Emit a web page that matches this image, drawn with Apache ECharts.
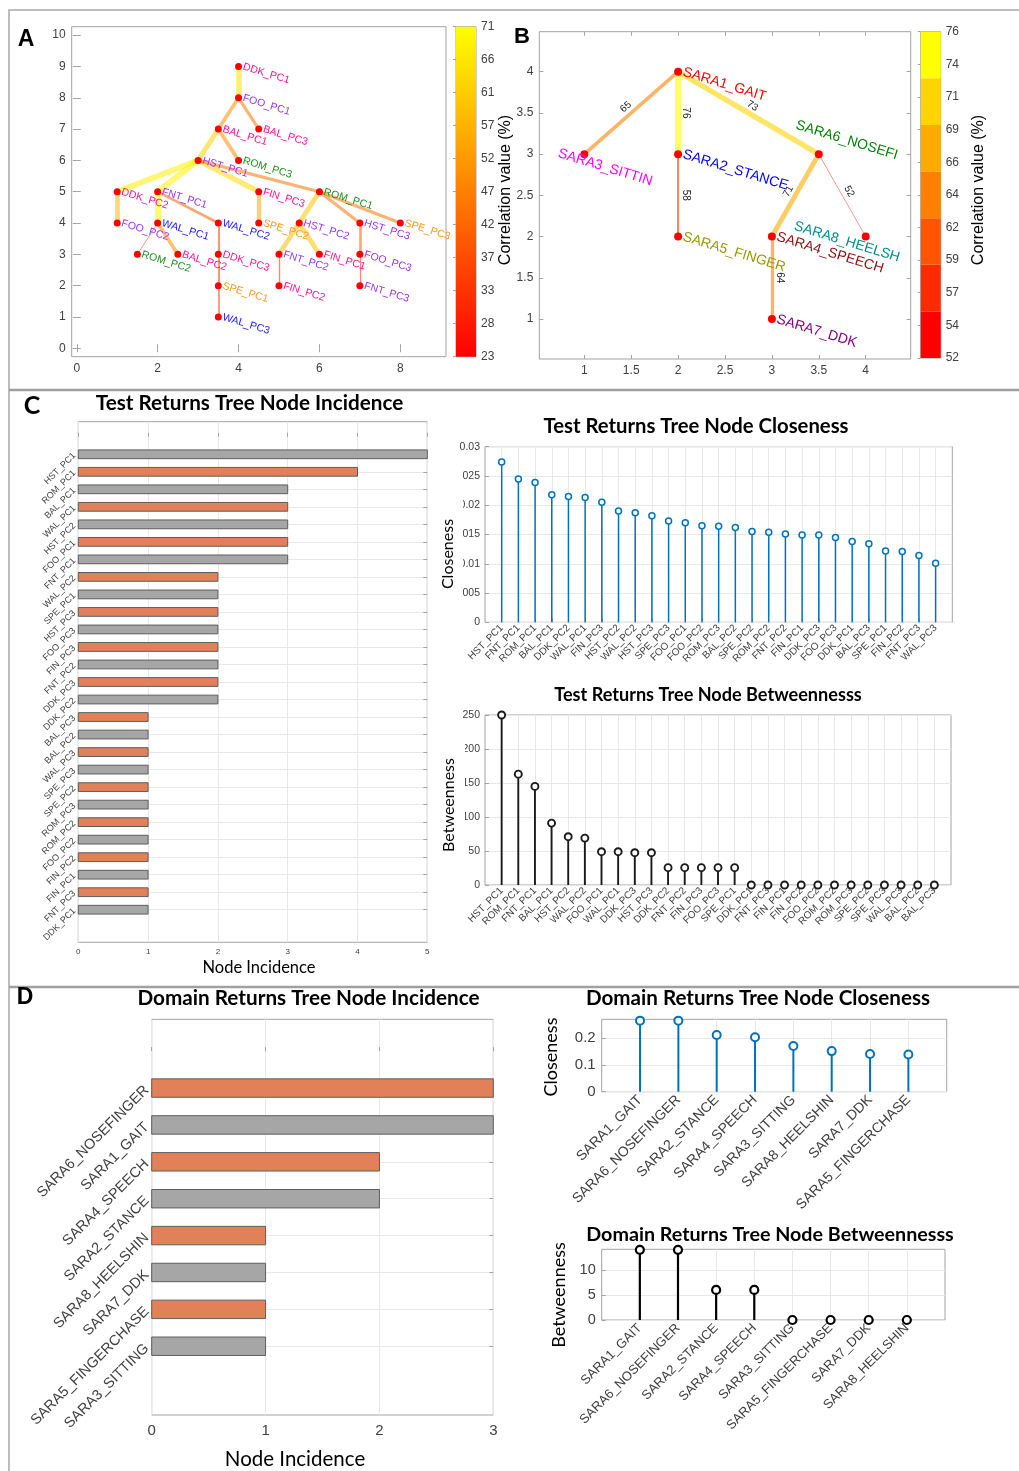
<!DOCTYPE html>
<html><head><meta charset="utf-8">
<script src="https://cdn.jsdelivr.net/npm/echarts@6/dist/echarts.min.js"></script>
<style>html,body{margin:0;padding:0;background:#fff}#c{width:1019px;height:1471px}</style>
</head><body><div id="c"></div>
<script>
// ---------------- DATA ----------------
// Panel A: test returns tree
const treeANodes = ['DDK_PC1','FOO_PC1','BAL_PC1','BAL_PC3','HST_PC1','ROM_PC3','DDK_PC2','FNT_PC1','FIN_PC3','ROM_PC1',
  'FOO_PC2','WAL_PC1','WAL_PC2','SPE_PC2','HST_PC2','HST_PC3','SPE_PC3','ROM_PC2','BAL_PC2','DDK_PC3',
  'FNT_PC2','FIN_PC1','FOO_PC3','SPE_PC1','FIN_PC2','FNT_PC3','WAL_PC3'];
const treeAX = [4,4,3.5,4.5,3,4,1,2,4.5,6, 1,2,3.5,4.5,5.5,7,8,1.5,2.5,3.5, 5,6,7,3.5,5,7,3.5];
const treeAY = [9,8,7,7,6,6,5,5,5,5, 4,4,4,4,4,4,4,3,3,3, 3,3,3,2,2,2,1];
const treeAEdgeFrom = ['DDK_PC1','FOO_PC1','FOO_PC1','BAL_PC1','BAL_PC1','HST_PC1','HST_PC1','HST_PC1','HST_PC1','DDK_PC2',
  'FNT_PC1','FNT_PC1','WAL_PC1','WAL_PC1','WAL_PC2','DDK_PC3','SPE_PC1','FIN_PC3','ROM_PC1','ROM_PC1',
  'ROM_PC1','HST_PC2','HST_PC2','FNT_PC2','HST_PC3','FOO_PC3'];
const treeAEdgeTo = ['FOO_PC1','BAL_PC1','BAL_PC3','HST_PC1','ROM_PC3','DDK_PC2','FNT_PC1','FIN_PC3','ROM_PC1','FOO_PC2',
  'WAL_PC1','WAL_PC2','ROM_PC2','BAL_PC2','DDK_PC3','SPE_PC1','WAL_PC3','SPE_PC2','HST_PC2','HST_PC3',
  'SPE_PC3','FNT_PC2','FIN_PC1','FIN_PC2','FOO_PC3','FNT_PC3'];
const treeAEdgeCorr = [66,50,45,62,50,68,69,64,45,58, 71,40,25,50,35,35,33,55,60,45, 45,58,60,30,40,28];
const treeAXTicks = [0,2,4,6,8];
const treeAYTicks = [0,1,2,3,4,5,6,7,8,9,10];
const colorbarAMin = 23, colorbarAMax = 71;

// Panel B: domain returns tree
const treeBNodes = ['SARA1_GAIT','SARA2_STANCE','SARA3_SITTIN','SARA4_SPEECH','SARA5_FINGER','SARA6_NOSEFI','SARA7_DDK','SARA8_HEELSH'];
const treeBX = [2,2,1,3,2,3.5,3,4];
const treeBY = [4,3,3,2,2,3,1,2];
const treeBEdgeFrom = ['SARA1_GAIT','SARA1_GAIT','SARA1_GAIT','SARA2_STANCE','SARA6_NOSEFI','SARA6_NOSEFI','SARA4_SPEECH'];
const treeBEdgeTo   = ['SARA3_SITTIN','SARA2_STANCE','SARA6_NOSEFI','SARA5_FINGER','SARA4_SPEECH','SARA8_HEELSH','SARA7_DDK'];
const treeBEdgeCorr = [65,76,73,58,71,52,64];
const treeBXTicks = [1,1.5,2,2.5,3,3.5,4];
const treeBYTicks = [1,1.5,2,2.5,3,3.5,4];
const colorbarBMin = 52, colorbarBMax = 76, colorbarBLevels = 7;

// Panel C
const testIncNames = ['HST_PC1','ROM_PC1','BAL_PC1','WAL_PC1','HST_PC2','FOO_PC1','FNT_PC1','WAL_PC2','SPE_PC1','HST_PC3',
  'FOO_PC3','FIN_PC3','FNT_PC2','DDK_PC3','DDK_PC2','BAL_PC3','BAL_PC2','WAL_PC3','SPE_PC3','SPE_PC2',
  'ROM_PC3','ROM_PC2','FOO_PC2','FIN_PC2','FIN_PC1','FNT_PC3','DDK_PC1'];
const testIncValues = [5,4,3,3,3,3,3,2,2,2, 2,2,2,2,2,1,1,1,1,1, 1,1,1,1,1,1,1];
const testCloNames = ['HST_PC1','FNT_PC1','ROM_PC1','BAL_PC1','DDK_PC2','WAL_PC1','FIN_PC3','HST_PC2','WAL_PC2','HST_PC3',
  'SPE_PC3','FOO_PC1','FOO_PC2','ROM_PC3','BAL_PC2','SPE_PC2','ROM_PC2','FNT_PC2','FIN_PC1','DDK_PC3',
  'FOO_PC3','DDK_PC1','BAL_PC3','SPE_PC1','FIN_PC2','FNT_PC3','WAL_PC3'];
const testCloValues = [0.0274,0.0245,0.0239,0.0218,0.0215,0.0213,0.0205,0.0190,0.0187,0.0182,
  0.0173,0.0170,0.0165,0.0164,0.0162,0.0155,0.0154,0.0151,0.0149,0.0149,
  0.0145,0.0138,0.0134,0.0122,0.0121,0.0114,0.0101];
const testBetNames = ['HST_PC1','ROM_PC1','FNT_PC1','BAL_PC1','HST_PC2','WAL_PC2','FOO_PC1','WAL_PC1','DDK_PC3','HST_PC3',
  'DDK_PC2','FNT_PC2','FIN_PC3','FOO_PC3','SPE_PC1','DDK_PC1','FNT_PC3','FIN_PC1','FIN_PC2','FOO_PC2',
  'ROM_PC2','ROM_PC3','SPE_PC2','SPE_PC3','WAL_PC3','BAL_PC2','BAL_PC3'];
const testBetValues = [250,163,145,91,71,69,49,49,47.5,47.5, 25.5,25.5,25.5,25.5,25.5,0,0,0,0,0, 0,0,0,0,0,0,0];

// Panel D
const domIncNames = ['SARA6_NOSEFINGER','SARA1_GAIT','SARA4_SPEECH','SARA2_STANCE','SARA8_HEELSHIN','SARA7_DDK','SARA5_FINGERCHASE','SARA3_SITTING'];
const domIncValues = [3,3,2,2,1,1,1,1];
const domCloNames = ['SARA1_GAIT','SARA6_NOSEFINGER','SARA2_STANCE','SARA4_SPEECH','SARA3_SITTING','SARA8_HEELSHIN','SARA7_DDK','SARA5_FINGERCHASE'];
const domCloValues = [0.266,0.266,0.212,0.204,0.171,0.152,0.141,0.139];
const domBetNames = ['SARA1_GAIT','SARA6_NOSEFINGER','SARA2_STANCE','SARA4_SPEECH','SARA3_SITTING','SARA5_FINGERCHASE','SARA7_DDK','SARA8_HEELSHIN'];
const domBetValues = [14,14,6,6,0,0,0,0];

// ---------------- STYLE ----------------
const FONT = 'Liberation Sans';
const AXC = '#a3a3a3';
const LABC = '#404040';
const GRIDC = '#e8e8e8';
const domainColors = {DDK:'#ff1493', BAL:'#ff1493', FIN:'#ff1493', FOO:'#9933ff', HST:'#9933ff', FNT:'#9933ff',
  ROM:'#1f8f1f', WAL:'#1a1aff', SPE:'#ff9922'};
const saraColors = {SARA1_GAIT:'#ff0000', SARA2_STANCE:'#0000ff', SARA3_SITTIN:'#ff00ff', SARA4_SPEECH:'#8b1010',
  SARA5_FINGER:'#999900', SARA6_NOSEFI:'#008000', SARA7_DDK:'#800080', SARA8_HEELSH:'#008b8b'};
const saraLabelOffsets = {SARA3_SITTIN:[-30,8], SARA6_NOSEFI:[-35,-20], SARA8_HEELSH:[-76,12]};
const autumn7 = ['#ff0000','#ff2b00','#ff5500','#ff8000','#ffaa00','#ffd400','#ffff00'];
const barColorsC = ['#a6a6a6','#e2805a'];
const barColorsD = ['#e2805a','#a6a6a6'];

function corrColorA(c){ const t = Math.max(0, Math.min(1, (c - colorbarAMin)/(colorbarAMax - colorbarAMin))); return 'rgb(255,' + Math.round(255*t) + ',0)'; }
function corrColorB(c){ let k = Math.floor((c - colorbarBMin)/(colorbarBMax - colorbarBMin)*(colorbarBLevels-1)); k = Math.max(0, Math.min(colorbarBLevels-1, k)); return autumn7[k]; }

function merge(base, o){ for (const k in o){ if (o[k] && typeof o[k]==='object' && !Array.isArray(o[k]) && base[k] && typeof base[k]==='object') base[k] = Object.assign({}, base[k], o[k]); else base[k] = o[k]; } return base; }
function axis(o){
  return merge({type:'value', axisLine:{show:false}, splitLine:{show:false, lineStyle:{color:GRIDC, width:1}},
    axisTick:{show:true, inside:true, length:4, lineStyle:{color:AXC, width:1}},
    axisLabel:{color:LABC, fontFamily:FONT, fontSize:12, margin:6}}, o || {});
}
const grids=[], xAxes=[], yAxes=[], series=[], graphics=[];
function addGrid(g, xa, ya){
  grids.push(Object.assign({show:true, borderColor:AXC, borderWidth:1, backgroundColor:'transparent'}, g));
  const gi = grids.length - 1;
  xAxes.push(Object.assign({gridIndex:gi}, xa)); yAxes.push(Object.assign({gridIndex:gi}, ya));
  return gi;
}
const range = (a,b) => { const r=[]; for (let i=a;i<=b;i++) r.push(i); return r; };
const fmtNum = v => String(+(+v).toFixed(4));
const mirrors = [];

// ---------------- PANEL A ----------------
const gA = addGrid({left:71.7, top:26.7, width:374.3, height:330},
  axis({min:-0.125, max:9.13, axisLabel:{customValues:treeAXTicks, formatter:fmtNum}, axisTick:{customValues:treeAXTicks}}),
  axis({min:-0.27, max:10.27, axisLabel:{customValues:treeAYTicks, formatter:fmtNum}, axisTick:{customValues:treeAYTicks}}));
mirrors.push([gA, 'x', -0.125, 9.13, treeAXTicks], [gA, 'y', -0.27, 10.27, treeAYTicks]);
series.push({type:'graph', coordinateSystem:'cartesian2d', xAxisIndex:gA, yAxisIndex:gA, layout:'none', silent:true,
  symbol:'circle', symbolSize:7, itemStyle:{color:'#ff0000'},
  label:{show:true, position:'right', distance:1, rotate:-17, fontSize:10.5, fontFamily:FONT, formatter:'{b}'},
  data: treeANodes.map((n,i)=>({name:n, value:[treeAX[i], treeAY[i]], label:{color:domainColors[n.slice(0,3)]}})),
  links: treeAEdgeFrom.map((f,i)=>{ const c = treeAEdgeCorr[i];
    return {source:f, target:treeAEdgeTo[i], value:c,
      lineStyle:{color:corrColorA(c), width:0.6 + (c-colorbarAMin)/(colorbarAMax-colorbarAMin)*5.6, opacity:0.55, curveness:0}}; })
});
// colorbar A
const cbATicks = range(0,10).map(k => colorbarAMin + k*(colorbarAMax-colorbarAMin)/10);
const gCA = addGrid({left:456, top:26.7, width:20, height:330},
  {type:'value', min:0, max:1, show:false},
  axis({min:colorbarAMin, max:colorbarAMax, position:'right', axisLabel:{customValues:cbATicks, formatter:v=>String(Math.round(v)), margin:5},
    axisTick:{customValues:cbATicks, inside:true, length:3}}));
series.push({type:'custom', xAxisIndex:gCA, yAxisIndex:gCA, silent:true, data:[[0, colorbarAMin, colorbarAMax]],
  renderItem:(p, api)=>{ const a = api.coord([0, api.value(2)]), b = api.coord([1, api.value(1)]);
    return {type:'rect', shape:{x:a[0], y:a[1], width:b[0]-a[0], height:b[1]-a[1]},
      style:{fill:new echarts.graphic.LinearGradient(0,0,0,1,[{offset:0,color:'#ffff00'},{offset:1,color:'#ff0000'}])}}; }});

// ---------------- PANEL B ----------------
const gB = addGrid({left:539.3, top:31.7, width:371.4, height:327.3},
  axis({min:0.52, max:4.48, axisLabel:{customValues:treeBXTicks, formatter:fmtNum}, axisTick:{customValues:treeBXTicks}}),
  axis({min:0.515, max:4.485, axisLabel:{customValues:treeBYTicks, formatter:fmtNum}, axisTick:{customValues:treeBYTicks}}));
mirrors.push([gB, 'x', 0.52, 4.48, treeBXTicks], [gB, 'y', 0.515, 4.485, treeBYTicks]);
series.push({type:'graph', coordinateSystem:'cartesian2d', xAxisIndex:gB, yAxisIndex:gB, layout:'none', silent:true,
  symbol:'circle', symbolSize:8, itemStyle:{color:'#ff0000'},
  label:{show:true, position:'right', distance:1, rotate:-17, fontSize:14, fontFamily:FONT, formatter:'{b}'},
  edgeLabel:{show:true, formatter:'{c}', fontSize:10, fontFamily:FONT, color:'#222', opacity:1, distance:3},
  data: treeBNodes.map((n,i)=>({name:n, value:[treeBX[i], treeBY[i]],
    label:Object.assign({color:saraColors[n]}, saraLabelOffsets[n] ? {offset:saraLabelOffsets[n]} : {})})),
  links: treeBEdgeFrom.map((f,i)=>{ const c = treeBEdgeCorr[i];
    return {source:f, target:treeBEdgeTo[i], value:c,
      lineStyle:{color:corrColorB(c), width:0.7 + (c-colorbarBMin)/(colorbarBMax-colorbarBMin)*5.3, opacity:0.6, curveness:0},
      label:{opacity:1}}; })
});
// colorbar B
const cbBTicks = range(0,10).map(k => colorbarBMin + k*(colorbarBMax-colorbarBMin)/10);
const cbBBands = range(0, colorbarBLevels-1).map(k => [0, colorbarBMin + k*(colorbarBMax-colorbarBMin)/colorbarBLevels,
  colorbarBMin + (k+1)*(colorbarBMax-colorbarBMin)/colorbarBLevels, k]);
const gCB = addGrid({left:920.7, top:31.7, width:20, height:326.3},
  {type:'value', min:0, max:1, show:false},
  axis({min:colorbarBMin, max:colorbarBMax, position:'right', axisLabel:{customValues:cbBTicks, formatter:v=>String(Math.round(v)), margin:5},
    axisTick:{customValues:cbBTicks, inside:true, length:3}}));
series.push({type:'custom', xAxisIndex:gCB, yAxisIndex:gCB, silent:true, data:cbBBands,
  renderItem:(p, api)=>{ const a = api.coord([0, api.value(2)]), b = api.coord([1, api.value(1)]);
    return {type:'rect', shape:{x:a[0], y:a[1], width:b[0]-a[0], height:b[1]-a[1]}, style:{fill:autumn7[api.value(3)]}}; }});

// ---------------- helpers for bars & stems ----------------
function hbarSeries(gi, values, colors){
  return {type:'custom', xAxisIndex:gi, yAxisIndex:gi, silent:true, data: values.map((v,i)=>[v, i+1]),
    renderItem:(p, api)=>{ const y = api.value(1); const a = api.coord([0, y]), b = api.coord([api.value(0), y]);
      const h = Math.abs(api.size([0,1])[1]) * 0.5;
      return {type:'rect', shape:{x:a[0], y:a[1]-h/2, width:b[0]-a[0], height:h},
        style:{fill:colors[p.dataIndex % 2], stroke:'#5e5e5e', lineWidth:1}}; }};
}
function stemSeries(gi, values, color, r, lw){
  return {type:'custom', xAxisIndex:gi, yAxisIndex:gi, silent:true, data: values.map((v,i)=>[i+1, v]),
    renderItem:(p, api)=>{ const x = api.value(0), v = api.value(1); const a = api.coord([x, 0]), b = api.coord([x, v]);
      return {type:'group', children:[
        {type:'line', shape:{x1:a[0], y1:a[1], x2:b[0], y2:b[1]}, style:{stroke:color, lineWidth:lw}},
        {type:'circle', shape:{cx:b[0], cy:b[1], r:r}, style:{fill:'#fff', stroke:color, lineWidth:lw}}]}; }};
}
function catTicks(n){ return range(1, n); }

// ---------------- PANEL C ----------------
const gCI = addGrid({left:78.3, top:421.7, width:349, height:520.6},
  axis({min:0, max:5, interval:1, splitLine:{show:true}, axisLabel:{fontSize:8, margin:5}}),
  axis({min:-0.86, max:testIncNames.length + 1.86, inverse:true, splitLine:{show:true},
    axisLabel:{customValues:catTicks(testIncNames.length), formatter:v=>testIncNames[Math.round(v)-1] || '', rotate:45, fontSize:9, margin:4},
    axisTick:{customValues:catTicks(testIncNames.length)}}));
mirrors.push([gCI, 'y', -0.86, testIncNames.length + 1.86, catTicks(testIncNames.length), true]);
series.push(hbarSeries(gCI, testIncValues, barColorsC));

const gCC = addGrid({left:485, top:446.7, width:467.3, height:175.6},
  axis({min:0, max:testCloNames.length + 1, splitLine:{show:true},
    axisLabel:{customValues:catTicks(testCloNames.length), formatter:v=>testCloNames[Math.round(v)-1] || '', rotate:45, fontSize:10, margin:4},
    axisTick:{customValues:catTicks(testCloNames.length)}}),
  axis({min:0, max:0.03, interval:0.005, splitLine:{show:true}, axisLabel:{fontSize:10.5, formatter:fmtNum, margin:5}}));
series.push(stemSeries(gCC, testCloValues, '#0072bd', 3, 1.5));

const gCB2 = addGrid({left:485, top:715, width:466, height:170},
  axis({min:0, max:testBetNames.length + 1, splitLine:{show:true},
    axisLabel:{customValues:catTicks(testBetNames.length), formatter:v=>testBetNames[Math.round(v)-1] || '', rotate:45, fontSize:10, margin:4},
    axisTick:{customValues:catTicks(testBetNames.length)}}),
  axis({min:0, max:250, interval:50, splitLine:{show:true}, axisLabel:{fontSize:10.5, margin:5}}));
series.push(stemSeries(gCB2, testBetValues, '#1a1a1a', 3.5, 1.9));

// ---------------- PANEL D ----------------
const gDI = addGrid({left:151.7, top:1019.3, width:341.6, height:395.7},
  axis({min:0, max:3, interval:1, splitLine:{show:true}, axisLabel:{fontSize:15, margin:8}}),
  axis({min:-0.864, max:domIncNames.length + 1.864, inverse:true, splitLine:{show:true},
    axisLabel:{customValues:catTicks(domIncNames.length), formatter:v=>domIncNames[Math.round(v)-1] || '', rotate:45, fontSize:14.5, margin:5},
    axisTick:{customValues:catTicks(domIncNames.length)}}));
mirrors.push([gDI, 'y', -0.864, domIncNames.length + 1.864, catTicks(domIncNames.length), true]);
series.push(hbarSeries(gDI, domIncValues, barColorsD));

const dCloY = [0, 0.1, 0.2];
const gDC = addGrid({left:601.7, top:1019.3, width:345, height:72.4},
  axis({min:0, max:domCloNames.length + 1, splitLine:{show:true},
    axisLabel:{customValues:catTicks(domCloNames.length), formatter:v=>domCloNames[Math.round(v)-1] || '', rotate:45, fontSize:14, margin:6},
    axisTick:{customValues:catTicks(domCloNames.length)}}),
  axis({min:0, max:0.271, splitLine:{show:true}, axisLabel:{customValues:dCloY, formatter:fmtNum, fontSize:15, margin:6}, axisTick:{customValues:dCloY}}));
series.push(stemSeries(gDC, domCloValues, '#0072bd', 4, 2));

const dBetY = [0, 5, 10];
const gDB = addGrid({left:601.7, top:1249.3, width:343.3, height:70.7},
  axis({min:0, max:domBetNames.length + 1, splitLine:{show:true},
    axisLabel:{customValues:catTicks(domBetNames.length), formatter:v=>domBetNames[Math.round(v)-1] || '', rotate:45, fontSize:13, margin:6},
    axisTick:{customValues:catTicks(domBetNames.length)}}),
  axis({min:0, max:14.1, splitLine:{show:true}, axisLabel:{customValues:dBetY, fontSize:14.5, margin:6}, axisTick:{customValues:dBetY}}));
series.push(stemSeries(gDB, domBetValues, '#000', 4, 2.2));

// mirrored tick marks on top/right edges (box style)
mirrors.forEach(([gi, dim, mn, mx, ticks, inv]) => {
  const ax = axis({min:mn, max:mx, inverse:!!inv, position: dim==='x' ? 'top' : 'right',
    axisLabel:{show:false}, axisTick:{customValues:ticks}});
  ax.gridIndex = gi;
  (dim==='x' ? xAxes : yAxes).push(ax);
});

// ---------------- TEXT & FRAME ----------------
function txt(t, x, y, font, opts){ graphics.push(Object.assign({type:'text', x:x, y:y, silent:true, z:100,
  style:{text:t, font:font, fill:'#000', align:'center', verticalAlign:'middle'}}, opts || {})); }
function vtxt(t, x, y, font){ txt(t, x, y, font, {rotation:Math.PI/2}); }
graphics.push({type:'rect', shape:{x:9, y:10, width:1020, height:1470}, style:{fill:'none', stroke:'#a8a8a8', lineWidth:1.5}, silent:true});
graphics.push({type:'line', shape:{x1:9, y1:390, x2:1019, y2:390}, style:{stroke:'#a0a0a0', lineWidth:2.5}, silent:true});
graphics.push({type:'line', shape:{x1:9, y1:987, x2:1019, y2:987}, style:{stroke:'#a0a0a0', lineWidth:2.5}, silent:true});
// clipped tick-label strips (as in the reference)
graphics.push({type:'rect', z:50, shape:{x:454, y:457, width:9, height:158}, style:{fill:'#fff'}, silent:true});
graphics.push({type:'rect', z:50, shape:{x:454, y:726, width:11, height:152}, style:{fill:'#fff'}, silent:true});
txt('A', 26, 40, 'bold 23px "Liberation Sans"');
txt('B', 522, 37, 'bold 22px "Liberation Sans"');
txt('C', 32, 406, 'bold 25px "Lato"');
txt('D', 25, 998, 'bold 23px "Liberation Sans"');
vtxt('Correlation value (%)', 506, 190, '16px "Liberation Sans"');
vtxt('Correlation value (%)', 979, 190, '16px "Liberation Sans"');
txt('Test Returns Tree Node Incidence', 249.5, 403, 'bold 20.7px "Lato"');
txt('Test Returns Tree Node Closeness', 696, 426, 'bold 20.3px "Lato"');
txt('Test Returns Tree Node Betweennesss', 708, 695, 'bold 18.1px "Lato"');
txt('Node Incidence', 259, 968, '16.5px "Lato"');
vtxt('Closeness', 448, 554, '16px "Lato"');
vtxt('Betweenness', 449, 805, '16px "Lato"');
txt('Domain Returns Tree Node Incidence', 308.5, 998, 'bold 20.7px "Lato"');
txt('Domain Returns Tree Node Closeness', 758, 998, 'bold 20.6px "Lato"');
txt('Domain Returns Tree Node Betweennesss', 770, 1235, 'bold 19.7px "Lato"');
txt('Node Incidence', 295, 1459, '20.5px "Lato"');
vtxt('Closeness', 551, 1057, '18px "Lato"');
vtxt('Betweenness', 559, 1295, '18px "Lato"');

const chart = echarts.init(document.getElementById('c'), null, {renderer:'canvas', width:1019, height:1471});
chart.setOption({animation:false, backgroundColor:'#fff', grid:grids, xAxis:xAxes, yAxis:yAxes, series:series, graphic:{elements:graphics}});
</script></body></html>
